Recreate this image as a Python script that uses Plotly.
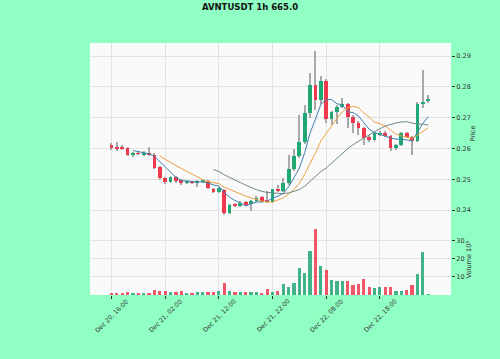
import plotly.graph_objects as go
import pandas as pd

# ---- data (hourly candles, Dec 20 16:00 -> Dec 23 03:00) ----
opens = [0.2610, 0.2604, 0.2602, 0.2601, 0.2579, 0.2585, 0.2582, 0.2587, 0.2580, 0.2540,
         0.2503, 0.2490, 0.2506, 0.2497, 0.2488, 0.2492, 0.2490, 0.2492, 0.2495, 0.2469,
         0.2460, 0.2465, 0.2392, 0.2419, 0.2414, 0.2427, 0.2420, 0.2428, 0.2441, 0.2431,
         0.2427, 0.2470, 0.2462, 0.2487, 0.2533, 0.2576, 0.2622, 0.2714, 0.2806, 0.2757,
         0.2819, 0.2696, 0.2718, 0.2736, 0.2743, 0.2703, 0.2682, 0.2666, 0.2637, 0.2628,
         0.2644, 0.2651, 0.2641, 0.2601, 0.2611, 0.2649, 0.2638, 0.2625, 0.2745, 0.2753]
highs = [0.2618, 0.2622, 0.2612, 0.2604, 0.2588, 0.2592, 0.2591, 0.2605, 0.2584, 0.2543,
         0.2506, 0.2511, 0.2510, 0.2500, 0.2495, 0.2496, 0.2497, 0.2499, 0.2498, 0.2472,
         0.2474, 0.2467, 0.2420, 0.2424, 0.2428, 0.2430, 0.2434, 0.2445, 0.2445, 0.2462,
         0.2470, 0.2480, 0.2503, 0.2580, 0.2600, 0.2709, 0.2741, 0.2844, 0.2917, 0.2835,
         0.2825, 0.2722, 0.2740, 0.2764, 0.2748, 0.2708, 0.2688, 0.2670, 0.2645, 0.2655,
         0.2656, 0.2656, 0.2645, 0.2614, 0.2652, 0.2655, 0.2642, 0.2750, 0.2855, 0.2774]
lows = [0.2595, 0.2593, 0.2594, 0.2575, 0.2572, 0.2578, 0.2576, 0.2577, 0.2534, 0.2498,
        0.2485, 0.2488, 0.2489, 0.2480, 0.2484, 0.2486, 0.2475, 0.2487, 0.2468, 0.2457,
        0.2456, 0.2384, 0.2388, 0.2410, 0.2410, 0.2414, 0.2398, 0.2425, 0.2424, 0.2424,
        0.2424, 0.2459, 0.2458, 0.2483, 0.2528, 0.2570, 0.2615, 0.2700, 0.2725, 0.2745,
        0.2682, 0.2676, 0.2680, 0.2730, 0.2666, 0.2650, 0.2644, 0.2611, 0.2620, 0.2622,
        0.2640, 0.2636, 0.2592, 0.2596, 0.2607, 0.2635, 0.2580, 0.2622, 0.2730, 0.2748]
closes = [0.2601, 0.2601, 0.2600, 0.2580, 0.2585, 0.2583, 0.2586, 0.2580, 0.2538, 0.2503,
          0.2490, 0.2508, 0.2494, 0.2487, 0.2492, 0.2490, 0.2493, 0.2495, 0.2471, 0.2460,
          0.2471, 0.2392, 0.2417, 0.2415, 0.2424, 0.2418, 0.2431, 0.2440, 0.2428, 0.2428,
          0.2467, 0.2462, 0.2487, 0.2533, 0.2577, 0.2622, 0.2714, 0.2806, 0.2757, 0.2818,
          0.2696, 0.2718, 0.2736, 0.2743, 0.2703, 0.2682, 0.2666, 0.2633, 0.2628, 0.2649,
          0.2651, 0.2641, 0.2601, 0.2611, 0.2649, 0.2638, 0.2625, 0.2743, 0.2752, 0.2760]
volumes = [0.8, 1.2, 0.7, 1.4, 0.6, 0.6, 0.6, 0.6, 2.6, 2.1,
           2.0, 1.7, 1.7, 2.0, 1.1, 0.9, 1.7, 1.5, 1.5, 1.4,
           2.0, 6.7, 2.2, 1.6, 1.6, 1.8, 1.6, 1.6, 1.0, 3.5,
           1.4, 2.2, 5.9, 4.5, 6.7, 14.7, 12.4, 24.5, 36.5, 16.1,
           13.7, 8.2, 7.9, 8.0, 7.9, 5.4, 6.3, 8.6, 4.3, 3.7,
           4.3, 4.6, 4.5, 2.2, 2.2, 2.6, 5.4, 11.9, 23.9, 0.2]  # x 1e5
tick_idx = [0, 10, 20, 30, 40, 50]
tick_labels = ["Dec 20, 16:00", "Dec 21, 02:00", "Dec 21, 12:00",
               "Dec 21, 22:00", "Dec 22, 08:00", "Dec 22, 18:00"]
price_ticks = [0.24, 0.25, 0.26, 0.27, 0.28, 0.29]
vol_ticks = [10, 20, 30]
mav_windows = [5, 10, 20]

UP = "#1fa774"
DOWN = "#f0394d"
WICK = "#a9a9a9"
MAV_COLORS = ["#3f7fae", "#f0a040", "#6f8987"]
GRID = "#e3e3e3"
TXT = "#333333"
FONT = "DejaVu Sans"

idx = list(range(len(closes)))
colors = [UP if c >= o else DOWN for o, c in zip(opens, closes)]

fig = go.Figure()
fig.add_trace(go.Bar(x=idx, y=[h - l for h, l in zip(highs, lows)], base=lows, width=0.18,
                     marker=dict(color=WICK, line=dict(width=0)), xaxis="x", yaxis="y",
                     hoverinfo="skip"))
fig.add_trace(go.Bar(x=idx, y=[max(abs(c - o), 0.00008) for o, c in zip(opens, closes)],
                     base=[min(o, c) for o, c in zip(opens, closes)], width=0.7,
                     marker=dict(color=colors, line=dict(width=0)), xaxis="x", yaxis="y"))
s = pd.Series(closes)
for w, col in zip(mav_windows, MAV_COLORS):
    fig.add_trace(go.Scatter(x=idx, y=s.rolling(w).mean(), mode="lines",
                             line=dict(color=col, width=1), xaxis="x", yaxis="y"))
fig.add_trace(go.Bar(x=idx, y=volumes, width=0.6,
                     marker=dict(color=colors, opacity=0.85, line=dict(width=0)),
                     xaxis="x2", yaxis="y2"))

H_PLOT = 359 - 43 - 64
vdom = 71 / H_PLOT
xr = [-4.0, 63.25]
axis_common = dict(showgrid=True, gridcolor=GRID, gridwidth=0.8, zeroline=False,
                   showline=False, tickfont=dict(size=6.5, color=TXT, family=FONT))

fig.update_layout(
    width=500, height=359,
    margin=dict(l=90, r=49, t=43, b=64),
    paper_bgcolor="#8fffc4", plot_bgcolor="#fafafa",
    showlegend=False, barmode="overlay", bargap=0,
    font=dict(family=FONT, color=TXT),
    title=dict(text="AVNTUSDT 1h 665.0", x=0.5, xanchor="center", y=1 - 7 / 359,
               yanchor="middle", font=dict(size=8.5, color="#111111", family=FONT, weight="bold")),
    xaxis=dict(domain=[0, 1], range=xr, anchor="y", tickvals=tick_idx, showticklabels=False,
               ticks="", **axis_common),
    yaxis=dict(domain=[vdom, 1], range=[0.23549, 0.29425], side="right", anchor="x",
               tickvals=price_ticks, tickformat=".2f", ticks="outside", ticklen=3,
               tickcolor=TXT, title=dict(text="Price", font=dict(size=6.5, color=TXT), standoff=0),
               **axis_common),
    xaxis2=dict(domain=[0, 1], range=xr, anchor="y2", tickvals=tick_idx, showticklabels=False,
                ticks="outside", ticklen=3, tickcolor=TXT, **axis_common),
    yaxis2=dict(domain=[0, vdom], range=[0, 39.3], side="right", anchor="x2",
                tickvals=vol_ticks, ticks="outside", ticklen=3, tickcolor=TXT,
                title=dict(text="Volume 10<sup>5</sup>", font=dict(size=6.5, color=TXT), standoff=0),
                **axis_common),
)

for t, lab in zip(tick_idx, tick_labels):
    fig.add_annotation(x=t, xref="x2", y=-20 / H_PLOT, yref="paper", text=lab,
                       textangle=-45, showarrow=False, xanchor="center", yanchor="middle",
                       font=dict(size=6.2, color=TXT, family=FONT))

fig.write_html("out.html")
